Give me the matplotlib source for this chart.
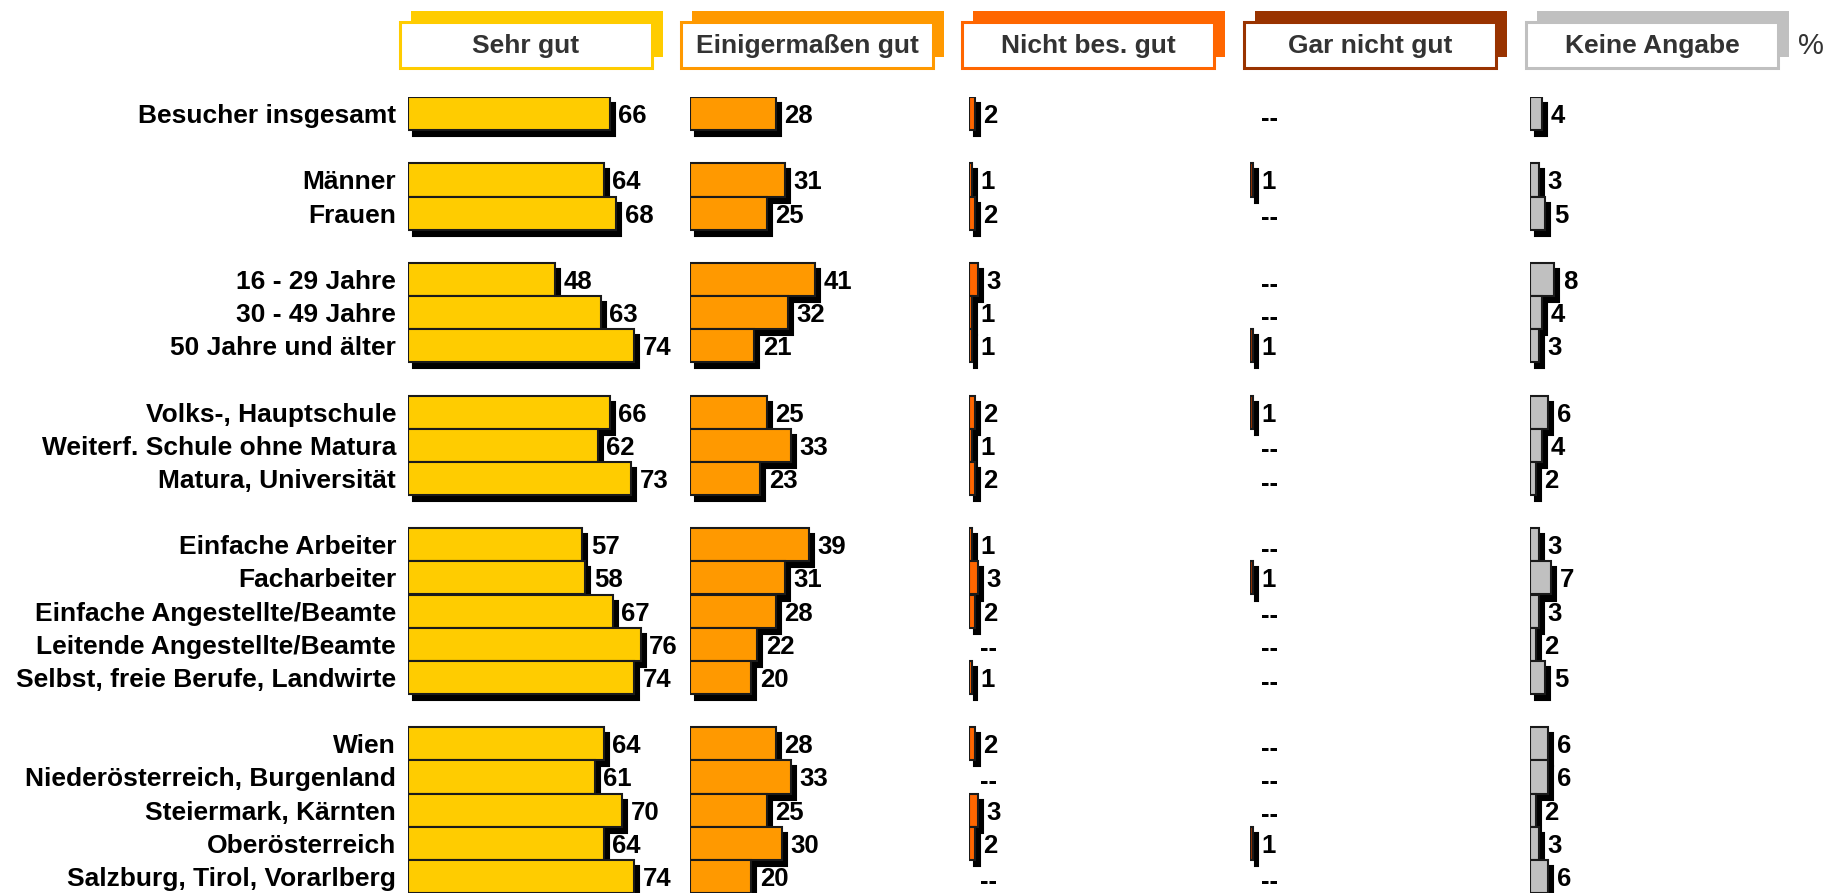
import matplotlib as mpl

mpl.use('Agg')
import matplotlib.pyplot as plt
from matplotlib.patches import Rectangle

plt.rcParams['font.family'] = ['Liberation Sans', 'DejaVu Sans']

# --- data -------------------------------------------------------------
categories = ["Sehr gut", "Einigermaßen gut", "Nicht bes. gut", "Gar nicht gut", "Keine Angabe"]
colors = ["#FFCC00", "#FF9900", "#FF6600", "#993300", "#C0C0C0"]

labels = [
    "Besucher insgesamt",
    "Männer", "Frauen",
    "16 - 29 Jahre", "30 - 49 Jahre", "50 Jahre und älter",
    "Volks-, Hauptschule", "Weiterf. Schule ohne Matura", "Matura, Universität",
    "Einfache Arbeiter", "Facharbeiter", "Einfache Angestellte/Beamte",
    "Leitende Angestellte/Beamte", "Selbst, freie Berufe, Landwirte",
    "Wien", "Niederösterreich, Burgenland", "Steiermark, Kärnten",
    "Oberösterreich", "Salzburg, Tirol, Vorarlberg",
]
group_sizes = [1, 2, 3, 3, 5, 5]

sehr_gut = [66, 64, 68, 48, 63, 74, 66, 62, 73, 57, 58, 67, 76, 74, 64, 61, 70, 64, 74]
einigermassen_gut = [28, 31, 25, 41, 32, 21, 25, 33, 23, 39, 31, 28, 22, 20, 28, 33, 25, 30, 20]
nicht_bes_gut = [2, 1, 2, 3, 1, 1, 2, 1, 2, 1, 3, 2, 0, 1, 2, 0, 3, 2, 0]
gar_nicht_gut = [0, 1, 0, 0, 0, 1, 1, 0, 0, 0, 1, 0, 0, 0, 0, 0, 0, 1, 0]
keine_angabe = [4, 3, 5, 8, 4, 3, 6, 4, 2, 3, 7, 3, 2, 5, 6, 6, 2, 3, 6]

series = [sehr_gut, einigermassen_gut, nicht_bes_gut, gar_nicht_gut, keine_angabe]

# --- layout (pixels) --------------------------------------------------
W, H = 1829, 893
col_left = [408, 690, 969, 1250, 1530]
hdr_left = [400, 681, 962, 1244, 1526]
col_w = 270
px_per_unit = 3.06
top_px = 97
slot_px = (H - top_px) / 24.0
shadow_dx = 5 / px_per_unit      # in value units
shadow_dy = 6 / slot_px          # in row units

# row positions with an empty slot between groups
ypos = []
pos = 0
for g in group_sizes:
    for _ in range(g):
        ypos.append(pos)
        pos += 1
    pos += 1
n_slots = ypos[-1] + 1

fig = plt.figure(figsize=(W / 100, H / 100), dpi=100)

for i, (vals, color) in enumerate(zip(series, colors)):
    ax = fig.add_axes([col_left[i] / W, 0, col_w / W, (H - top_px) / H])
    ax.set_xlim(0, col_w / px_per_unit)
    ax.set_ylim(n_slots - 0.5, -0.5)
    for s in ax.spines.values():
        s.set_visible(False)
    ax.set_xticks([])
    ax.patch.set_visible(False)
    if i == 0:
        ax.set_yticks(ypos)
        ax.set_yticklabels(labels, fontsize=19, fontweight='bold')
        ax.tick_params(axis='y', length=0, pad=8.5)
    else:
        ax.set_yticks([])

    ys = [y for y, v in zip(ypos, vals) if v > 0]
    vs = [v for v in vals if v > 0]
    # drop shadow, then the bars on top
    ax.barh([y + shadow_dy for y in ys], vs, left=shadow_dx, height=1.0,
            color='black', edgecolor='black', linewidth=1.5, clip_on=False)
    ax.barh(ys, vs, height=1.0, color=color, edgecolor='#1a1a1a', linewidth=1.5)

    for y, v in zip(ypos, vals):
        if v > 0:
            ax.annotate(str(v), (v + shadow_dx, y), xytext=(2.5, 0), textcoords='offset points',
                        ha='left', va='center_baseline', fontsize=18.5, fontweight='bold',
                        color='black', annotation_clip=False)
        else:
            ax.text(6.5, y + 0.08, '--', ha='center', va='center_baseline', fontsize=18.5,
                    fontweight='bold', color='black')

# header boxes
hax = fig.add_axes([0, 0, 1, 1])
hax.set_xlim(0, W)
hax.set_ylim(H, 0)
hax.axis('off')
hax.patch.set_visible(False)
box_w, box_h = 252, 46
for i, (cat, color) in enumerate(zip(categories, colors)):
    x0 = hdr_left[i]
    hax.add_patch(Rectangle((x0 + 11, 11), box_w, box_h, facecolor=color, edgecolor='none'))
    hax.add_patch(Rectangle((x0, 22), box_w, box_h, facecolor='white', edgecolor=color, linewidth=2.2))
    hax.text(x0 + box_w / 2, 46, cat, ha='center', va='center', fontsize=19,
             fontweight='bold', color='#333333')
hax.text(1811, 46, '%', ha='center', va='center', fontsize=21, color='#333333')

fig.savefig('out.png', dpi=100)
